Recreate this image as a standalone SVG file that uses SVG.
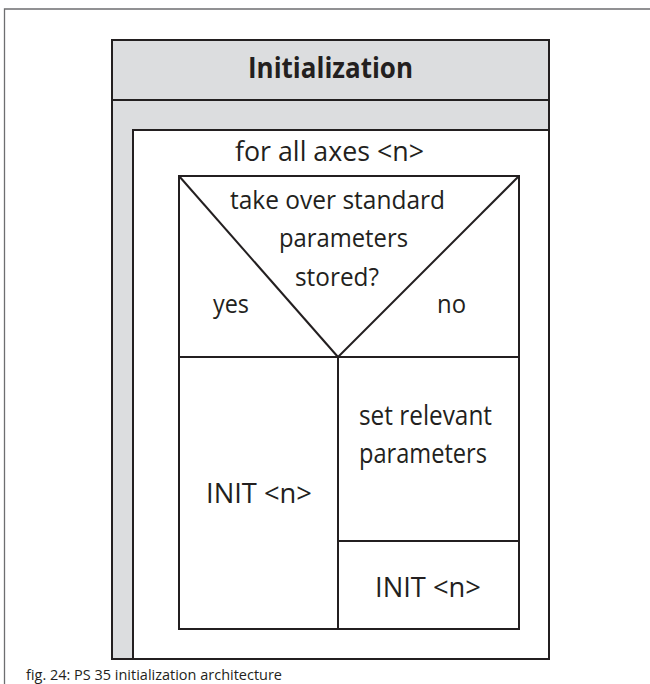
<svg xmlns="http://www.w3.org/2000/svg" width="650" height="684" viewBox="0 0 650 684">
  <style>
    .frame { fill: none; stroke: #6d6e70; stroke-width: 1.3; }
    .box { stroke: #231f20; stroke-width: 2; }
    .ln { stroke: #231f20; stroke-width: 2; fill: none; }
    .t { font-family: "Open Sans", "Liberation Sans", sans-serif; font-size: 27px; fill: #231f20; }
    .q { font-family: "Open Sans", "Liberation Sans", sans-serif; font-size: 26px; fill: #231f20; }
    .h { font-family: "Open Sans", "Liberation Sans", sans-serif; font-size: 29px; font-weight: bold; fill: #231f20; }
    .cap { font-family: "Open Sans", "Liberation Sans", sans-serif; font-size: 15px; fill: #231f20; }
  </style>
  <rect x="0" y="0" width="650" height="684" fill="#ffffff"/>
  <g id="page-frame">
    <path class="frame" d="M4.5,684 V9 H650"/>
  </g>
  <g id="initialization">
    <rect class="box" x="112" y="40" width="437" height="619" fill="#dcdddf"/>
    <line class="ln" x1="112" y1="100" x2="549" y2="100"/>
    <text class="h" x="248" y="78" textLength="165" lengthAdjust="spacingAndGlyphs">Initialization</text>
  </g>
  <g id="loop">
    <rect class="box" x="133" y="130" width="416" height="529" fill="#ffffff"/>
    <text class="t" x="235" y="161" textLength="189" lengthAdjust="spacingAndGlyphs">for all axes &lt;n&gt;</text>
  </g>
  <g id="decision">
    <rect class="box" x="179" y="176" width="340" height="453" fill="#ffffff"/>
    <text class="q" x="230" y="209" textLength="215" lengthAdjust="spacingAndGlyphs">take over standard</text>
    <text class="q" x="279" y="247" textLength="129" lengthAdjust="spacingAndGlyphs">parameters</text>
    <text class="q" x="295" y="286" textLength="84" lengthAdjust="spacingAndGlyphs">stored?</text>
    <text class="q" x="213" y="313" textLength="36" lengthAdjust="spacingAndGlyphs">yes</text>
    <text class="q" x="437" y="313" textLength="29" lengthAdjust="spacingAndGlyphs">no</text>
  </g>
  <g id="connectors">
    <line class="ln" x1="179" y1="176" x2="338" y2="357"/>
    <line class="ln" x1="519" y1="176" x2="338" y2="357"/>
    <line class="ln" x1="179" y1="357" x2="519" y2="357"/>
    <line class="ln" x1="338" y1="357" x2="338" y2="629"/>
    <line class="ln" x1="338" y1="541" x2="519" y2="541"/>
  </g>
  <g id="init-yes">
    <text class="t" x="206" y="503" textLength="106" lengthAdjust="spacingAndGlyphs">INIT &lt;n&gt;</text>
  </g>
  <g id="set-params">
    <text class="t" x="359" y="425" textLength="133" lengthAdjust="spacingAndGlyphs">set relevant</text>
    <text class="t" x="359" y="463" textLength="128" lengthAdjust="spacingAndGlyphs">parameters</text>
  </g>
  <g id="init-no">
    <text class="t" x="375" y="597" textLength="106" lengthAdjust="spacingAndGlyphs">INIT &lt;n&gt;</text>
  </g>
  <g id="caption">
    <text class="cap" x="26" y="680" textLength="256" lengthAdjust="spacingAndGlyphs">fig. 24: PS 35 initialization architecture</text>
  </g>
</svg>
